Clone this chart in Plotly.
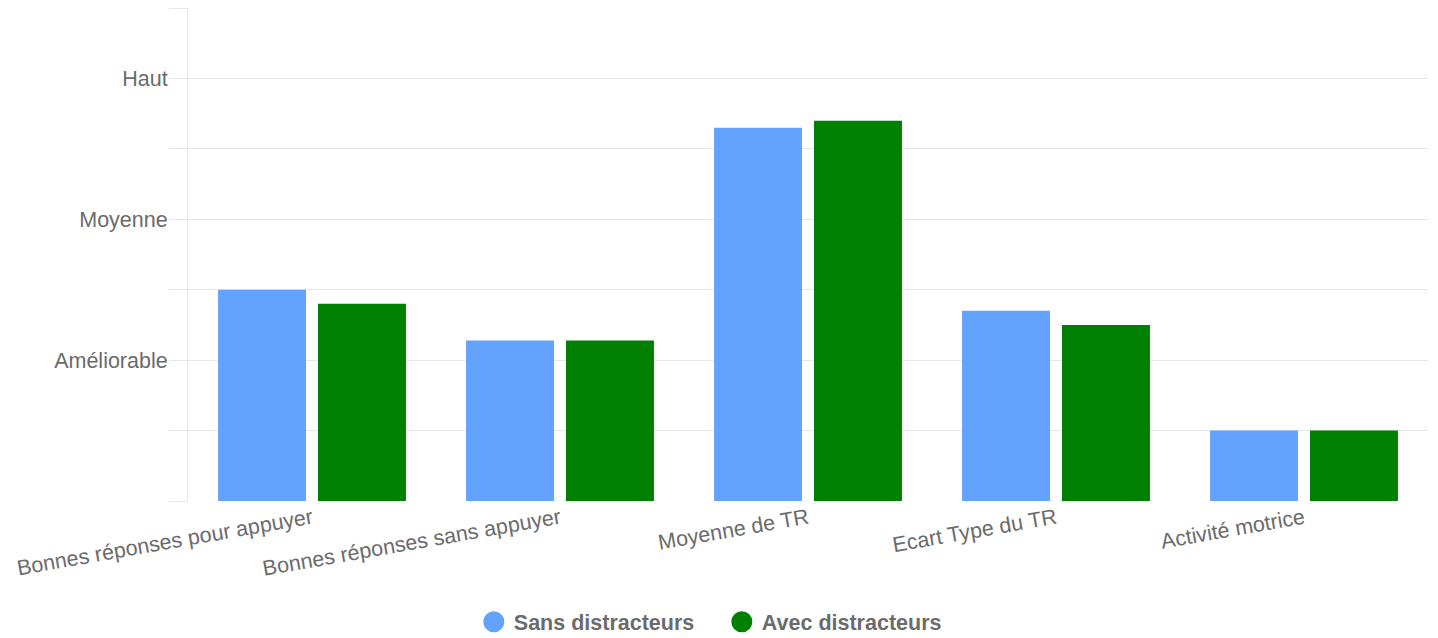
import plotly.graph_objects as go

categories = ["Bonnes réponses pour appuyer", "Bonnes réponses sans appuyer",
              "Moyenne de TR", "Ecart Type du TR", "Activité motrice"]
sans_distracteurs = [1.5, 1.14, 2.65, 1.35, 0.5]
avec_distracteurs = [1.4, 1.14, 2.70, 1.25, 0.5]
y_tick_values = [0, 0.5, 1, 1.5, 2, 2.5, 3, 3.5]
y_tick_labels = ["", "", "Améliorable", "", "Moyenne", "", "Haut", ""]
series_names = ["Sans distracteurs", "Avec distracteurs"]
series_colors = ["#63a2fe", "#008000"]

FONT = "Liberation Sans, Arial, sans-serif"
GRID = "#e6e6e6"
TXT = "#6b6b6b"

fig = go.Figure()
for name, vals, col in zip(series_names, [sans_distracteurs, avec_distracteurs], series_colors):
    fig.add_trace(go.Bar(x=categories, y=vals, name=name, marker=dict(color=col, line=dict(width=0)),
                         showlegend=False))
for name, col in zip(series_names, series_colors):
    fig.add_trace(go.Scatter(x=[None], y=[None], mode="markers", name=name,
                             marker=dict(color=col, size=16, symbol="circle", line=dict(color=col, width=5))))

fig.update_layout(
    width=1430, height=630,
    margin=dict(l=180, r=10, t=0, b=137, pad=0, autoexpand=False),
    paper_bgcolor="white", plot_bgcolor="white",
    barmode="group", bargap=0.194, bargroupgap=0.12,
    font=dict(family=FONT, size=21.5, color=TXT),
    legend=dict(orientation="h", x=0.4305, xanchor="center", y=-0.245, yanchor="middle",
                font=dict(family=FONT, size=21.5, color=TXT, weight="bold"),
                itemsizing="trace", itemwidth=30, tracegroupgap=0,
                entrywidth=203, entrywidthmode="pixels"),
    showlegend=True,
)
fig.update_xaxes(tickangle=-10, showgrid=False, showline=False, zeroline=False, ticks="",
                 automargin=False, tickfont=dict(family=FONT, size=21.5, color=TXT))
fig.update_yaxes(range=[0, 3.5], tickmode="array", tickvals=y_tick_values, ticktext=y_tick_labels,
                 showgrid=True, gridcolor=GRID, gridwidth=1, zeroline=False,
                 showline=True, linecolor=GRID, linewidth=1, automargin=False,
                 ticks="outside", ticklen=18, tickcolor=GRID, tickwidth=1,
                 ticklabelstandoff=-3,
                 tickfont=dict(family=FONT, size=21.5, color=TXT))

fig.write_html("out.html")
